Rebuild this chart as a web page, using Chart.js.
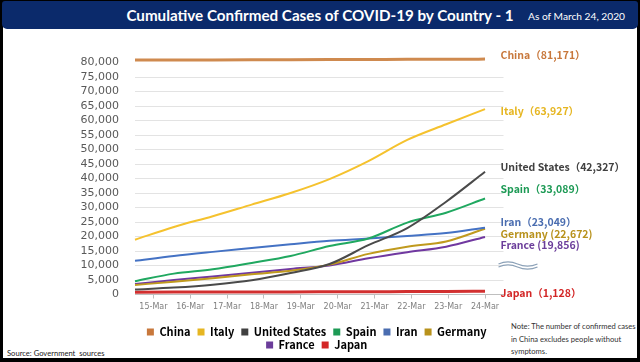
<!DOCTYPE html>
<html>
<head>
<meta charset="utf-8">
<script src="https://cdn.jsdelivr.net/npm/chart.js@4.4.1/dist/chart.umd.min.js"></script>
<style>
    html, body { margin: 0; padding: 0; background: #000; }
    #frame { position: relative; width: 640px; height: 362px; overflow: hidden; background: #000; }
    #sheet { position: absolute; left: 3px; top: 3px; width: 634px; height: 355px; background: #fff; }
    #bar { position: absolute; left: 2px; top: 1px; width: 636px; height: 28px; background: #0b2a6b; border-radius: 3px 3px 5px 5px; }
    #title { position: absolute; left: 0; top: 5px; width: 640px; text-align: center; color: #fff;
             font: bold 15.2px Lato, sans-serif; line-height: 20px; }
    #asof { position: absolute; left: 528px; top: 9px; color: #fff; font: 10.2px Lato, sans-serif; line-height: 14px; }
    #note { position: absolute; left: 511px; top: 320px; color: #333; font: 7.6px Lato, sans-serif; line-height: 12.5px; }
    #source { position: absolute; left: 7px; top: 347px; color: #222; font: 7.6px Lato, sans-serif; line-height: 12px; }
    canvas { position: absolute; left: 0; top: 0; }
</style>
</head>
<body>
<div id="frame">
    <div id="sheet"></div>
    <div id="bar"></div>
    <div id="title">Cumulative Confirmed Cases of COVID-19 by Country - 1</div>
    <div id="asof">As of March 24, 2020</div>
    <div id="note">Note: The number of confirmed cases<br>in China excludes people without<br>symptoms.</div>
    <div id="source">Source: Government&nbsp; sources</div>
    <canvas id="chart" width="640" height="362"></canvas>
</div>
<script>
// dates on the x axis
const days = ['15-Mar', '16-Mar', '17-Mar', '18-Mar', '19-Mar', '20-Mar', '21-Mar', '22-Mar', '23-Mar', '24-Mar'];
const countries = ['China', 'Italy', 'United States', 'Spain', 'Iran', 'Germany', 'France', 'Japan'];

// cumulative confirmed cases
const china = [80860, 80880, 80900, 80930, 80970, 81010, 81050, 81090, 81120, 81171];
const italy = [18900, 23300, 27000, 31000, 35000, 39800, 46000, 53300, 58700, 63927];
const unitedStates = [1700, 2400, 3400, 4900, 7400, 10500, 17000, 22900, 32000, 42327];
const spain = [4600, 7200, 8700, 10900, 13300, 16700, 19300, 24800, 28200, 33089];
const iran = [11600, 13300, 14700, 16000, 17300, 18500, 19300, 20200, 21200, 23049];
const germany = [3300, 4400, 5600, 7000, 8200, 10300, 14000, 16500, 18300, 22672];
const france = [3600, 5000, 6200, 7500, 8800, 10000, 12500, 14600, 16500, 19856];
const japan = [800, 820, 840, 870, 890, 930, 960, 1010, 1050, 1128];

const series = [china, italy, unitedStates, spain, iran, germany, france, japan];

// end labels on the right
const endLabels = ['China（81,171）', 'Italy（63,927）', 'United States（42,327）', 'Spain（33,089）',
    'Iran（23,049）', 'Germany (22,672)', 'France (19,856)', 'Japan（1,128）'];

const lineColors = ['#cf8a4f', '#f5c22e', '#4a4a4a', '#20a860', '#4472c4', '#c09a1e', '#7038a0', '#d23030'];
const textColors = ['#c8783c', '#e6b622', '#404040', '#1d9a55', '#4a6db0', '#b8921c', '#6b3d9a', '#d32626'];
const lineWidths = [3, 2, 2, 2, 2, 2, 2, 3];
const labelShift = [-4.5, 2, -5, -10, -5.5, 5, 8, 2]; // px nudges so labels don't collide

const endLabelPlugin = {
    id: 'endLabels',
    afterDatasetsDraw(chart) {
        const { ctx, chartArea } = chart;
        const yScale = chart.scales.y;
        const x = chartArea.right - 3;
        ctx.save();
        ctx.font = 'bold 10.5px "Noto Sans CJK JP", sans-serif';
        ctx.textAlign = 'left';
        ctx.textBaseline = 'middle';
        series.forEach((values, i) => {
            const y = yScale.getPixelForValue(values[values.length - 1]) + labelShift[i];
            ctx.fillStyle = textColors[i];
            ctx.fillText(endLabels[i], x, y);
        });
        // axis break mark
        ctx.strokeStyle = '#8da2b8';
        ctx.lineWidth = 1.2;
        [264, 267].forEach(y => {
            ctx.beginPath();
            ctx.moveTo(x - 2, y);
            ctx.bezierCurveTo(x + 5, y - 3, x + 10, y - 3, x + 17, y);
            ctx.bezierCurveTo(x + 24, y + 3, x + 30, y + 3, x + 37, y);
            ctx.stroke();
        });
        ctx.restore();
    },
};

const datasets = series.map((values, i) => ({
    label: countries[i],
    data: values.map((v, k) => ({ x: k, y: v })),
    borderColor: lineColors[i],
    backgroundColor: textColors[i],
    borderWidth: lineWidths[i],
    pointRadius: 0,
    cubicInterpolationMode: 'monotone',
    clip: false,
    xAxisID: 'x',
    yAxisID: 'y',
}));

new Chart(document.querySelector('#chart'), {
    type: 'line',
    data: { datasets },
    options: {
        responsive: false,
        animation: false,
        locale: 'en-US',
        layout: { padding: { left: 80, right: 136.5, top: 62.5, bottom: 1.5 } },
        plugins: {
            tooltip: { enabled: false },
            legend: {
                position: 'bottom',
                fullSize: false,
                labels: {
                    color: '#000',
                    font: { family: '"Noto Sans CJK JP", sans-serif', size: 11, weight: 'bold' },
                    boxWidth: 7,
                    boxHeight: 7,
                    padding: 2,
                    generateLabels: chart =>
                        Chart.defaults.plugins.legend.labels.generateLabels(chart).map(item => ({
                            ...item,
                            text: item.text + '  ',
                            lineWidth: 0,
                            strokeStyle: item.fillStyle,
                        })),
                },
            },
        },
        scales: {
            x: {
                type: 'linear',
                display: false,
                min: 0,
                max: 9.475,
            },
            xc: {
                type: 'category',
                labels: days,
                position: 'bottom',
                offset: true,
                afterFit: scale => { scale.height = 30; },
                border: { display: true, color: '#bfbfbf', width: 1 },
                grid: { display: true, drawOnChartArea: false, drawTicks: true, tickLength: 4, color: '#bfbfbf' },
                ticks: {
                    color: '#7f7f7f',
                    font: { family: '"DejaVu Sans", sans-serif', size: 8 },
                    padding: 4,
                    maxRotation: 0,
                    autoSkip: false,
                },
            },
            y: {
                min: 0,
                max: 80000,
                afterFit: scale => { scale.width = 55; },
                border: { display: false },
                grid: {
                    // top gridline sits under the China line in the original
                    color: c => (c.tick && c.tick.value === 80000 ? 'rgba(0,0,0,0)' : '#e3e3e3'),
                    drawTicks: false,
                },
                ticks: {
                    stepSize: 5000,
                    autoSkip: false,
                    color: '#595959',
                    padding: 16,
                    font: { family: '"DejaVu Sans", sans-serif', size: 11 },
                },
            },
        },
    },
    plugins: [endLabelPlugin],
});
</script>
</body>
</html>
